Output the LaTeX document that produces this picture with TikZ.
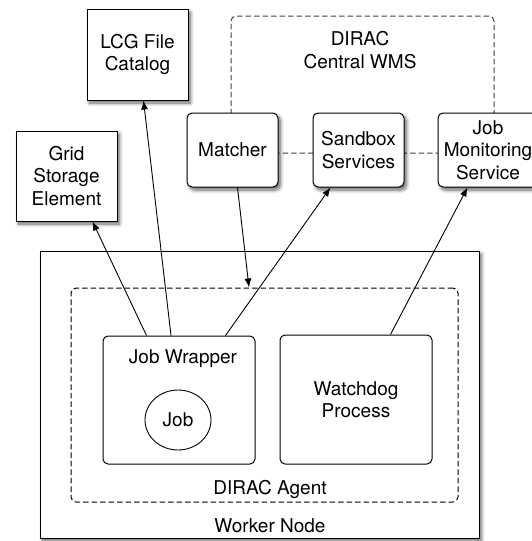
\documentclass[tikz,border=0pt]{standalone}
\usepackage{fontspec}
\setmainfont{TeX Gyre Heros}
\usetikzlibrary{arrows.meta,shadows.blur,shapes.geometric}
\begin{document}
\begin{tikzpicture}[x=1pt,y=-1pt,
  every node/.style={font=\fontsize{19}{22.5}\selectfont},
  shad/.style={blur shadow={shadow blur steps=8,shadow xshift=2.5pt,shadow yshift=-3pt,shadow blur radius=3.5pt,shadow opacity=60}},
  sqbox/.style={draw,line width=1pt,fill=white,rectangle,inner sep=0pt,align=center,shad},
  rbox/.style={sqbox,rounded corners=5pt},
  plainbox/.style={draw,line width=1pt,fill=white,rectangle,inner sep=0pt,rounded corners=5pt},
  dbox/.style={draw,line width=1pt,dash pattern=on 5.5pt off 3pt,rounded corners=5pt,rectangle,inner sep=0pt},
  arr/.style={line width=0.9pt,-{Latex[length=9pt,width=7pt]}},
  txt/.style={inner sep=0pt,align=center}
]
\useasboundingbox (0,0) rectangle (531,541);
% Central WMS dashed region
\node[dbox,draw=black!75,minimum width=263pt,minimum height=137pt] (wms) at (362.5,84.5) {};
\node[txt] (wmstxt) at (360,50) {DIRAC\\Central WMS};
% external boxes
\node[sqbox,minimum width=101pt,minimum height=91pt] (lcg) at (137.5,54.5) {LCG File\\Catalog};
\node[sqbox,minimum width=101pt,minimum height=90pt] (gse) at (66.5,176) {Grid\\Storage\\Element};
\node[rbox,minimum width=91pt,minimum height=74pt] (matcher) at (232.5,150) {Matcher};
\node[rbox,minimum width=91pt,minimum height=74pt] (sandbox) at (358.5,150) {Sandbox\\Services};
\node[rbox,minimum width=100pt,minimum height=74pt] (jm) at (488,150) {Job\\Monitoring\\Service};
% worker node
\node[sqbox,minimum width=439pt,minimum height=287pt] (wn) at (259.5,394.5) {};
\node[txt] (wntxt) at (270,526) {Worker Node};
\node[dbox,minimum width=387pt,minimum height=214pt] (agent) at (264.5,395) {};
\node[txt] (agenttxt) at (270,489) {DIRAC Agent};
\node[plainbox,minimum width=152pt,minimum height=128pt] (jw) at (179,400) {};
\node[txt] (jwtxt) at (183,359) {Job Wrapper};
\node[draw,line width=0.9pt,ellipse,minimum width=66pt,minimum height=60pt,inner sep=0pt] (job) at (178,420) {Job};
\node[plainbox,minimum width=152pt,minimum height=129pt,align=center] (wd) at (356,399.5) {Watchdog\\Process};
% connectors
\draw[arr] ([xshift=44pt]jw.north west) -- ([xshift=77pt]gse.south west);
\draw[arr] ([xshift=68.5pt]jw.north west) -- ([xshift=57pt]lcg.south west);
\draw[arr] ([xshift=123pt]jw.north west) -- ([xshift=18pt]sandbox.south west);
\draw[arr] ([xshift=111pt]wd.north west) -- ([xshift=30pt]jm.south west);
\draw[arr] ([xshift=51pt]matcher.south west) -- ([xshift=178.5pt]agent.north west);
\end{tikzpicture}
\end{document}
